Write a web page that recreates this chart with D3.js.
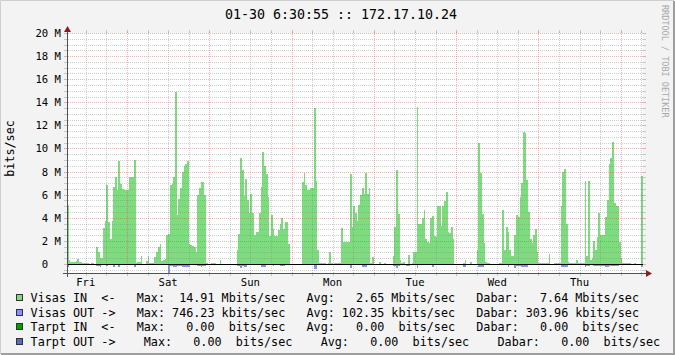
<!DOCTYPE html>
<html>
<head>
<meta charset="utf-8">
<script src="https://cdn.jsdelivr.net/npm/d3@7"></script>
<style>
body { margin: 0; background: #f3f3f3; }
svg { display: block; }
text { font-family: "DejaVu Sans Mono", monospace; white-space: pre; }
</style>
</head>
<body>
<svg id="chart" width="675" height="355"></svg>
<script>
// 30 min averages in Mbits/sec, first slot starts Fri 01-23 06:30
var visasIn = [
  5.1,0.35,0.2,0.15,0.2,0.25,0.45,0.15,0.2,0.1,0.1,0.1,0.05,0,0.1,0.1,0,
  1.5,1.0,0.5,0.5,3.1,3.7,6.8,3.6,2.2,3.7,6.7,7.5,6.4,8.9,6.9,6.5,6.4,6.4,6.4,7.5,7.5,7.5,9.0,
  0.1,0.15,0.2,0.7,0,0,0.3,0.7,0.05,0.05,0.05,0.6,1.0,1.5,1.7,0.3,0.35,0.4,2.5,2.6,6.8,6.9,7.5,14.9,4.2,5.6,6.6,
  8.0,8.5,8.7,8.9,1.7,1.65,1.6,1.5,1.0,6.0,6.6,7.1,7.1,6.0,0.1,0,0,0.1,0.1,0.1,0,0,0.35,
  0,0,0,0,0,0,0,0,0,
  1.2,2.6,9.2,8.1,5.9,7.4,5.5,4.4,6.1,4.4,2.5,2.8,2.8,4.4,6.7,9.7,8.5,7.8,5.8,2.4,4.2,3.0,2.4,2.4,2.9,3.5,4.0,3.0,3.6,3.6,1.7,
  0,0,0,0,0,0,0,
  7.1,7.85,6.85,6.4,6.4,6.6,6.55,13.5,7.2,1.2,0.05,0.1,0.1,0.1,0,0.1,1.0,0.1,0,0.1,0.1,0.1,0.1,3.1,1.9,1.9,1.9,1.9,7.8,3.2,5.0,4.4,3.7,5.1,6.0,6.55,6.1,7.85,6.1,6.6,
  0.1,0.6,0,0,0,0.2,0,0,0.1,0,0,0,0,0.7,3.2,8.1,4.3,0.35,0.1,0.2,0,0,0.8,0,0.05,
  1.05,1.0,13.6,3.5,3.5,3.95,4.7,2.2,1.9,1.8,3.95,4.15,2.4,2.35,5.0,5.0,3.3,5.0,5.45,6.25,2.8,2.65,3.2,2.15,
  0,0,0,0,0,0.1,0.35,0,0,0.15,0,0,0,1.2,10.45,7.85,4.3,1.8,0.2,0.1,0.1,0,0,0,0,0,0.05,0.05,
  4.7,1.2,3.2,2.8,1.2,0.7,0.7,2.5,4.25,4.1,5.8,7.0,11.45,11.3,7.3,4.5,2.15,1.8,2.5,3.0,1.05,
  0.1,0.1,0.1,0.1,0.1,0.05,0.85,0,0,0.1,0.1,0.1,0.1,
  5.0,8.0,8.2,3.45,
  0.2,0.1,0.1,0.1,0.1,0.35,0.1,0.1,0.1,0.1,
  7.2,0.7,7.2,0.35,0.5,2.0,1.2,2.3,4.45,2.5,2.5,2.5,4.1,5.5,8.7,9.2,10.6,5.25,5.0,5.0,1.9,0.5,
  0.05,0.05,0.05,0.05,0.1,0,0,0.1,0,0,0,7.6
];

// outgoing, drawn below zero
var visasOut = [
  0.23,0,0,0,0,0,0,0,0,0,0,0,0,0,0,0,0,
  0.15,0.15,0.23,0.12,0.12,0.12,0.2,0.1,0.12,0.12,0.3,0.12,0.12,0.23,
  0.12,0.12,0.12,0.12,0.12,0.12,0.12,0.12,0.23,
  0,0,0,0,0,0,0,0,
  0,0,0,0,0,0,0,0,0,
  0.1,0.1,0.75,0.17,0.17,0.3,0.3,0.17,0.17,0.17,
  0.23,0.23,0.23,0.23,0.23,
  0,0,0,0,
  0.15,0.15,0.23,0.15,0.15,
  0,0,0,0,0,0,0,0,0,0,0,0,0,0,0,
  0,0,0,
  0.15,0.15,0.32,0.15,0.23,0.23,
  0.12,0.12,0.12,0.12,0.12,0.12,0.12,0.12,
  0.23,0.23,0.23,0.12,0.12,0.12,0.12,0.17,
  0,0,0,0.15,0.15,0.15,
  0,0,0,0,0,0,0,
  0.1,0.1,0.1,0.1,0.1,0.1,0.1,0.1,0.1,0.1,
  0.4,0.4,0.1,
  0,0,0,0,0,0,0,0,0,0,0,0,0,
  0.12,0.12,0.12,0.12,0.12,0.32,0.12,0.12,0.12,0.12,0.12,0.12,
  0.23,0.23,0.23,0.12,0.12,
  0,0,0,0,0,0,0,0,0,0,0,0,0,
  0.17,0.17,0.32,0.17,
  0,0,0,0,0.15,0.15,0,0,
  0.12,0.12,0.32,0.12,0.12,0.12,0.12,0.12,0.12,0.12,0.12,0.23,0.12,
  0,0.12,0.12,0.12,0.12,0.12,0.12,0.12,
  0,0,0,0,0,0,0,0,
  0.23,0.23,
  0,0,0,0,0,0,0,
  0.3,0.3,0.3,0.12,0.12,
  0,0,0,0,0,0,0,0,0,
  0.12,0.12,0.12,0.3,0.12,0,0,
  0.32,0.17,0.17,0.17,0.23,0.23,0.23,0.23,0.12,
  0.12,0.12,0.12,0.12,
  0,0,0,0,0,0,0,0,0,0,0,0,0,0,
  0.3,0.3,0.3,0.3,
  0,0,0,0,0,0,0,0,0,0,
  0.23,0.17,0.17,0.12,0.12,
  0.15,0.15,0.15,0.15,0.15,0.15,0.15,
  0.3,0.3,
  0.17,0.17,0.17,0.17,0.17,0.17,
  0,0,0,0,0,0,0,0,0,0,0,0,0,
  0.3
];

var yTicks = [0, 2, 4, 6, 8, 10, 12, 14, 16, 18, 20];
var titleText = "01-30 6:30:55 :: 172.17.10.24";
var unitText = "bits/sec";
var legendRows = [
  "Visas IN  <-   Max:  14.91 Mbits/sec   Avg:   2.65 Mbits/sec   Dabar:   7.64 Mbits/sec",
  "Visas OUT ->   Max: 746.23 kbits/sec   Avg: 102.35 kbits/sec   Dabar: 303.96 kbits/sec",
  "Tarpt IN  <-   Max:   0.00  bits/sec   Avg:   0.00  bits/sec   Dabar:   0.00  bits/sec",
  "Tarpt OUT ->    Max:   0.00  bits/sec    Avg:   0.00  bits/sec    Dabar:   0.00  bits/sec"
];
var legendColors = ["#7ddc7d", "#8590ff", "#00a000", "#4d6ccc"];

var W = 675, H = 355;
var svg = d3.select("#chart");

var start = new Date(2009, 0, 23, 6, 30, 55);
var end = new Date(2009, 0, 30, 6, 30, 55);
var slot0 = new Date(2009, 0, 23, 6, 30, 0);

var x = d3.scaleTime().domain([start, end]).range([67, 643]);
var y = d3.scaleLinear().domain([-0.78, 20]).range([273, 33]);

// background + 3d border
svg.append("rect").attr("width", W).attr("height", H).attr("fill", "#f3f3f3");
svg.append("path").attr("d", "M0.5," + (H - 1) + "V0.5H" + (W - 1))
  .attr("stroke", "#cfcfcf").attr("fill", "none");
svg.append("path").attr("d", "M1," + (H - 1) + "H" + (W - 1) + "V1")
  .attr("stroke", "#9e9e9e").attr("stroke-width", 2).attr("fill", "none");

// canvas
svg.append("rect").attr("x", 67).attr("y", 33).attr("width", 576).attr("height", 240).attr("fill", "#fff");

svg.append("clipPath").attr("id", "plot")
  .append("rect").attr("x", 67).attr("y", 20).attr("width", 576).attr("height", 253);

function toPoints(arr) {
  var pts = arr.map(function(v, i) { return {t: d3.timeMinute.offset(slot0, 30 * i), v: v}; });
  pts.push({t: d3.timeMinute.offset(slot0, 30 * arr.length), v: arr[arr.length - 1]});
  return pts;
}

var g = svg.append("g").attr("clip-path", "url(#plot)").attr("shape-rendering", "crispEdges");

g.append("path")
  .datum(toPoints(visasIn))
  .attr("fill", legendColors[0])
  .attr("d", d3.area().curve(d3.curveStepAfter)
    .x(function(d) { return x(d.t); })
    .y0(y(0))
    .y1(function(d) { return y(d.v); }));

g.append("path")
  .datum(toPoints(visasOut))
  .attr("fill", legendColors[1])
  .attr("d", d3.area().curve(d3.curveStepAfter)
    .x(function(d) { return x(d.t); })
    .y0(y(0))
    .y1(function(d) { return y(-d.v); }));

// grid on top of the data, like rrdtool
var minorCol = "rgba(130,130,130,0.38)", majorCol = "rgba(215,60,60,0.38)";
var grid = svg.append("g").attr("shape-rendering", "crispEdges");

var yMinor = d3.range(-0.5, 20.01, 0.5).filter(function(v) { return v % 2 !== 0; });
function hline(v, col) {
  var yy = Math.round(y(v)) + 0.5;
  grid.append("line").attr("x1", 66).attr("x2", 644).attr("y1", yy).attr("y2", yy)
    .attr("stroke", col).attr("stroke-dasharray", "1,1");
  grid.append("line").attr("x1", 64).attr("x2", 66).attr("y1", yy).attr("y2", yy).attr("stroke", col);
  grid.append("line").attr("x1", 643).attr("x2", 646).attr("y1", yy).attr("y2", yy).attr("stroke", col);
}
yMinor.forEach(function(v) { hline(v, minorCol); });
yTicks.forEach(function(v) { hline(v, majorCol); });

function vline(t, col) {
  var xx = Math.round(x(t)) + 0.5;
  grid.append("line").attr("x1", xx).attr("x2", xx).attr("y1", 32).attr("y2", 274)
    .attr("stroke", col).attr("stroke-dasharray", "1,1");
  grid.append("line").attr("x1", xx).attr("x2", xx).attr("y1", 273).attr("y2", 276).attr("stroke", col);
  grid.append("line").attr("x1", xx).attr("x2", xx).attr("y1", 30).attr("y2", 33).attr("stroke", col);
}
d3.timeHour.every(6).range(start, end)
  .filter(function(t) { return t.getHours() !== 0; })
  .forEach(function(t) { vline(t, minorCol); });
d3.timeDay.range(start, end).forEach(function(t) { vline(t, majorCol); });

// zero line
svg.append("line").attr("x1", 67).attr("x2", 643)
  .attr("y1", Math.round(y(0)) + 0.5).attr("y2", Math.round(y(0)) + 0.5)
  .attr("stroke", "#000").attr("shape-rendering", "crispEdges");

// axes + arrows
var axisCol = "#4a5550", arrowCol = "#8b1c1c";
svg.append("line").attr("x1", 63).attr("x2", 647).attr("y1", 273.5).attr("y2", 273.5)
  .attr("stroke", axisCol).attr("shape-rendering", "crispEdges");
svg.append("line").attr("x1", 67.5).attr("x2", 67.5).attr("y1", 277).attr("y2", 30)
  .attr("stroke", axisCol).attr("shape-rendering", "crispEdges");
svg.append("path").attr("d", "M646,270L652,273.5L646,277Z").attr("fill", arrowCol);
svg.append("path").attr("d", "M64,32L67.5,26L71,32Z").attr("fill", arrowCol);

// y labels
svg.append("g").selectAll("text").data(yTicks).enter().append("text")
  .attr("x", 61).attr("y", function(d) { return y(d); })
  .attr("dy", "0.37em")
  .attr("text-anchor", "end")
  .attr("font-size", "10.6px")
  .text(function(d) { return d === 0 ? "0  " : d + " M"; });

// x labels at noon
var noons = d3.timeDay.range(d3.timeDay.floor(start), end)
  .map(function(d) { return d3.timeHour.offset(d, 12); })
  .filter(function(d) { return d >= start && d <= end; });
svg.append("g").selectAll("text").data(noons).enter().append("text")
  .attr("x", function(d) { return x(d); }).attr("y", 286)
  .attr("text-anchor", "middle")
  .attr("font-size", "10.6px")
  .text(d3.timeFormat("%a"));

// title, unit, watermark
svg.append("text").attr("x", 341).attr("y", 19).attr("text-anchor", "middle")
  .attr("font-size", "13.3px").text(titleText);
svg.append("text").attr("transform", "translate(14,148.5) rotate(-90)")
  .attr("text-anchor", "middle").attr("font-size", "11.76px").text(unitText);
svg.append("text").attr("transform", "translate(662,5) rotate(90)")
  .attr("font-size", "8.5px").attr("fill", "#a8a8a8").text("RRDTOOL / TOBI OETIKER");

// legend
var leg = svg.append("g").selectAll("g").data(legendRows).enter().append("g")
  .attr("transform", function(d, i) { return "translate(0," + (302 + i * 14.5) + ")"; });
leg.append("rect").attr("x", 16.5).attr("y", -7.5).attr("width", 6).attr("height", 6)
  .attr("fill", function(d, i) { return legendColors[i]; })
  .attr("stroke", "#333").attr("shape-rendering", "crispEdges");
leg.append("text").attr("x", 30.6).attr("y", 0).attr("font-size", "11.76px")
  .text(function(d) { return d; });
</script>
</body>
</html>
